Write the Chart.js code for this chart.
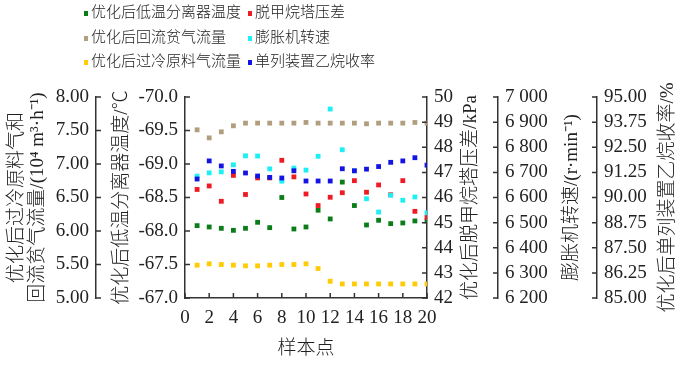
<!DOCTYPE html>
<html>
<head>
<meta charset="utf-8">
<script src="https://cdn.jsdelivr.net/npm/chart.js@4.4.1/dist/chart.umd.min.js"></script>
<style>
  html, body { margin: 0; padding: 0; background: #fff; }
</style>
</head>
<body>
<canvas id="chart" width="700" height="367"></canvas>
<script>
// sample points 1..20
const sampleNo = [1, 2, 3, 4, 5, 6, 7, 8, 9, 10, 11, 12, 13, 14, 15, 16, 17, 18, 19, 20];

// series values
const lowSepTemp = [-68.08, -68.06, -68.04, -68.01, -68.04, -68.13, -68.05, -68.50, -68.03, -68.06,
                    -68.31, -68.18, -68.73, -68.38, -68.09, -68.16, -68.11, -68.12, -68.15, -68.15];
const demethPress = [46.32, 46.46, 45.85, 46.88, 46.12, 46.78, 46.78, 47.48, 46.82, 46.14,
                     45.68, 46.01, 46.19, 46.67, 46.21, 46.50, 46.11, 46.67, 45.45, 45.21];
const refluxGas = [7.51, 7.39, 7.48, 7.57, 7.61, 7.61, 7.61, 7.61, 7.61, 7.62,
                   7.61, 7.61, 7.61, 7.61, 7.60, 7.61, 7.61, 7.61, 7.62, 7.61];
const expanderSpeed = [6685, 6698, 6702, 6730, 6766, 6765, 6714, 6665, 6717, 6709,
                       6764, 6952, 6790, 6706, 6595, 6542, 6609, 6589, 6602, 6539];
const feedGas = [5.49, 5.51, 5.50, 5.49, 5.48, 5.48, 5.49, 5.50, 5.50, 5.51,
                 5.44, 5.25, 5.21, 5.21, 5.21, 5.21, 5.21, 5.21, 5.21, 5.21];
const ethaneYield = [90.92, 91.82, 91.57, 91.30, 91.22, 91.07, 91.00, 90.97, 91.33, 90.82,
                     90.82, 90.82, 91.43, 91.33, 91.41, 91.54, 91.75, 91.82, 91.98, 91.61];

// tick labels of each axis
const xTicks = [0, 2, 4, 6, 8, 10, 12, 14, 16, 18, 20];
const flowTicks = [5.0, 5.5, 6.0, 6.5, 7.0, 7.5, 8.0];
const tempTicks = [-70.0, -69.5, -69.0, -68.5, -68.0, -67.5, -67.0];
const pressTicks = [42, 43, 44, 45, 46, 47, 48, 49, 50];
const speedTicks = [6200, 6300, 6400, 6500, 6600, 6700, 6800, 6900, 7000];
const yieldTicks = [85.00, 86.25, 87.50, 88.75, 90.00, 91.25, 92.50, 93.75, 95.00];

const series = [
  { label: '优化后低温分离器温度', values: lowSepTemp, axis: 'yTemp', color: '#0a7d18', order: 4 },
  { label: '脱甲烷塔压差', values: demethPress, axis: 'yPress', color: '#ee1b24', order: 2 },
  { label: '优化后回流贫气流量', values: refluxGas, axis: 'yFlow', color: '#b19e7e', order: 3 },
  { label: '膨胀机转速', values: expanderSpeed, axis: 'ySpeed', color: '#1cf0f4', order: 1 },
  { label: '优化后过冷原料气流量', values: feedGas, axis: 'yFlow', color: '#ffcb05', order: 5 },
  { label: '单列装置乙烷收率', values: ethaneYield, axis: 'yYield', color: '#1414e2', order: 0 }
];

const axisTitles = {
  yFlow: { lines: ['优化后过冷原料气和', '回流贫气流量/(10⁴ m³·h⁻¹)'], xs: [17, 38] },
  yTemp: { lines: ['优化后低温分离器温度/℃'], xs: [26] },
  yPress: { lines: ['优化后脱甲烷塔压差/kPa'], xs: [44] },
  ySpeed: { lines: ['膨胀机转速/(r·min⁻¹)'], xs: [74] },
  yYield: { lines: ['优化后单列装置乙烷收率/%'], xs: [71] }
};

const numFont = '"Liberation Serif", "Noto Sans CJK SC"';
const ink = '#333';

const datasets = series.map(s => ({
  label: s.label,
  data: sampleNo.map((x, i) => ({ x: x, y: s.values[i] })),
  yAxisID: s.axis,
  backgroundColor: s.color,
  borderColor: s.color,
  borderWidth: 0,
  pointStyle: 'rect',
  pointRadius: 3.4,
  order: s.order
}));

const fixTicks = arr => scale => { scale.ticks = arr.map(v => ({ value: v })); };

function yAxis(pos, ticks, width, fmt, extra) {
  return Object.assign({
    type: 'linear',
    position: pos,
    min: Math.min(...ticks),
    max: Math.max(...ticks),
    afterBuildTicks: fixTicks(ticks),
    afterFit: s => { s.width = width; },
    grid: { drawOnChartArea: false, drawTicks: false },
    border: { display: true, color: ink, width: 1.5 },
    ticks: { padding: 7, autoSkip: false, color: '#222', font: { family: numFont, size: 19 }, callback: fmt }
  }, extra || {});
}

// inward tick marks
const innerTicks = {
  id: 'innerTicks',
  afterDraw(chart) {
    const ctx = chart.ctx;
    ctx.save();
    ctx.strokeStyle = ink;
    ctx.lineWidth = 1.5;
    Object.values(chart.scales).forEach(sc => {
      ctx.beginPath();
      if (sc.axis === 'x') {
        sc.ticks.forEach(t => {
          const px = sc.getPixelForValue(t.value);
          ctx.moveTo(px, sc.top);
          ctx.lineTo(px, sc.top - 5);
        });
      } else {
        const left = sc.position === 'left';
        const bx = left ? sc.right : sc.left;
        sc.ticks.forEach(t => {
          const py = sc.getPixelForValue(t.value);
          ctx.moveTo(bx, py);
          ctx.lineTo(bx + (left ? 5 : -5), py);
        });
      }
      ctx.stroke();
    });
    ctx.restore();
  }
};

// rotated y axis titles (all read bottom to top)
const sideTitles = {
  id: 'sideTitles',
  afterDraw(chart) {
    const ctx = chart.ctx;
    const midY = (chart.chartArea.top + chart.chartArea.bottom) / 2;
    ctx.save();
    ctx.fillStyle = '#222';
    ctx.font = '300 19px ' + numFont;
    ctx.textAlign = 'center';
    ctx.textBaseline = 'middle';
    Object.keys(axisTitles).forEach(id => {
      const sc = chart.scales[id];
      const t = axisTitles[id];
      t.lines.forEach((line, i) => {
        ctx.save();
        ctx.translate(sc.left + t.xs[i], midY);
        ctx.rotate(-Math.PI / 2);
        ctx.fillText(line, 0, 0);
        ctx.restore();
      });
    });
    ctx.restore();
  }
};

// two-column legend at the top
const gridLegend = {
  id: 'gridLegend',
  afterDraw(chart) {
    const ctx = chart.ctx;
    const cols = [86, 250];
    const rows = [13, 38, 62];
    ctx.save();
    ctx.font = '300 15px ' + numFont;
    ctx.textBaseline = 'middle';
    ctx.textAlign = 'left';
    chart.data.datasets.forEach((ds, i) => {
      const x = cols[i % 2];
      const y = rows[Math.floor(i / 2)];
      ctx.fillStyle = ds.backgroundColor;
      ctx.fillRect(x - 2, y - 2, 4, 5);
      ctx.fillStyle = '#222';
      ctx.fillText(ds.label, x + 5, y);
    });
    ctx.restore();
  }
};

new Chart(document.getElementById('chart'), {
  type: 'scatter',
  data: { datasets: datasets },
  plugins: [innerTicks, sideTitles, gridLegend],
  options: {
    responsive: false,
    animation: false,
    devicePixelRatio: 1,
    layout: { padding: { top: 97, left: 0, right: 0, bottom: 0 } },
    plugins: {
      legend: { display: false },
      tooltip: { enabled: false }
    },
    scales: {
      x: {
        type: 'linear',
        position: 'bottom',
        min: 0,
        max: 20,
        afterBuildTicks: fixTicks(xTicks),
        afterFit: s => { s.height = 69; },
        grid: { drawOnChartArea: false, drawTicks: false },
        border: { display: true, color: ink, width: 1.5 },
        ticks: { padding: 9, autoSkip: false, maxRotation: 0, color: '#222', font: { family: numFont, size: 19 } },
        title: { display: true, text: '样本点', color: '#222', font: { family: numFont, size: 19, weight: '300' }, padding: { top: 4, bottom: 7 } }
      },
      yTemp: yAxis('left', tempTicks, 89, v => v.toFixed(1), { reverse: true }),
      yFlow: yAxis('left', flowTicks, 96, v => v.toFixed(2)),
      yPress: yAxis('right', pressTicks, 71, v => String(v)),
      ySpeed: yAxis('right', speedTicks, 99, v => String(v).replace(/\B(?=(\d{3})+(?!\d))/g, ' ')),
      yYield: yAxis('right', yieldTicks, 103, v => v.toFixed(2))
    }
  }
});
</script>
</body>
</html>
